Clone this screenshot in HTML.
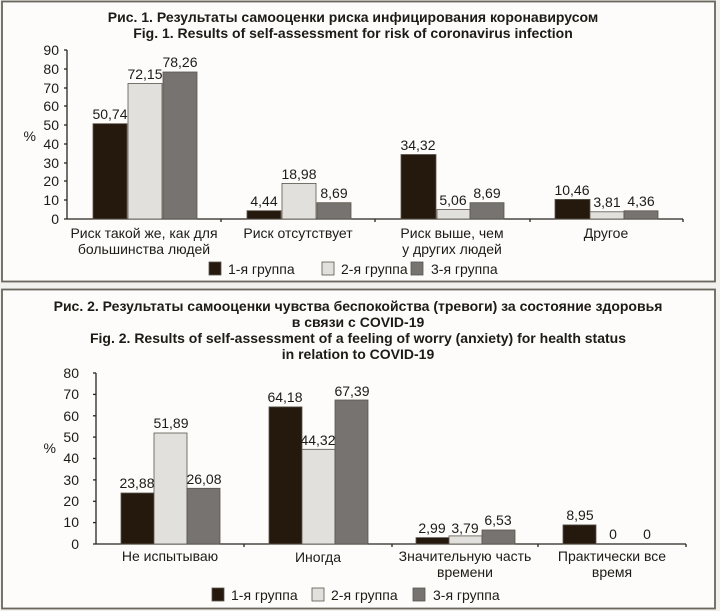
<!DOCTYPE html>
<html><head><meta charset="utf-8"><style>
html,body{margin:0;padding:0;background:#f3f1ed;}
svg{display:block;font-family:"Liberation Sans","DejaVu Sans",sans-serif;}
</style></head><body>
<svg width="720" height="611" viewBox="0 0 720 611" xmlns="http://www.w3.org/2000/svg">
<rect x="0" y="0" width="720" height="611" fill="#f3f1ed"/>
<rect x="2" y="1.5" width="713" height="280" fill="#fdfcfa" stroke="#6a655d" stroke-width="1.8"/>
<rect x="2" y="289.5" width="713" height="319" fill="#fdfcfa" stroke="#6a655d" stroke-width="1.8"/>

<g fill="#1e1a16" font-weight="bold" font-size="14" text-anchor="middle">
<text x="353" y="22">Рис. 1. Результаты самооценки риска инфицирования коронавирусом</text>
<text x="353" y="38">Fig. 1. Results of self-assessment for risk of coronavirus infection</text>
<text x="358" y="311">Рис. 2. Результаты самооценки чувства беспокойства (тревоги) за состояние здоровья</text>
<text x="358" y="327">в связи с COVID-19</text>
<text x="358" y="343">Fig. 2. Results of self-assessment of a feeling of worry (anxiety) for health status</text>
<text x="358" y="359">in relation to COVID-19</text>
</g>

<!-- Chart 1 -->
<g stroke="#2a241e" stroke-width="1.3">
<line x1="67" y1="50" x2="67" y2="219"/>
<line x1="64" y1="219" x2="683" y2="219"/>
<line x1="64" y1="50" x2="67" y2="50"/><line x1="64" y1="69" x2="67" y2="69"/><line x1="64" y1="88" x2="67" y2="88"/><line x1="64" y1="106" x2="67" y2="106"/><line x1="64" y1="125" x2="67" y2="125"/><line x1="64" y1="144" x2="67" y2="144"/><line x1="64" y1="163" x2="67" y2="163"/><line x1="64" y1="181" x2="67" y2="181"/><line x1="64" y1="200" x2="67" y2="200"/>
<line x1="221" y1="219" x2="221" y2="222"/><line x1="375" y1="219" x2="375" y2="222"/><line x1="530" y1="219" x2="530" y2="222"/><line x1="683" y1="219" x2="683" y2="222"/>
</g>
<g font-size="14" fill="#1e1a16" text-anchor="end">
<text x="59" y="55">90</text><text x="59" y="74">80</text><text x="59" y="93">70</text><text x="59" y="111">60</text><text x="59" y="130">50</text><text x="59" y="149">40</text><text x="59" y="168">30</text><text x="59" y="186">20</text><text x="59" y="205">10</text><text x="59" y="224">0</text>
<text x="36" y="141">%</text>
</g>
<g stroke="#5a544c" stroke-width="0.8">
<rect x="93" y="123.7" width="34" height="95.3" fill="#25180d"/>
<rect x="128" y="83.5" width="34" height="135.5" fill="#e2e0dc"/>
<rect x="163" y="72" width="34" height="147" fill="#767370"/>
<rect x="247" y="210.7" width="34" height="8.3" fill="#25180d"/>
<rect x="282" y="183.4" width="34" height="35.6" fill="#e2e0dc"/>
<rect x="317" y="202.7" width="34" height="16.3" fill="#767370"/>
<rect x="401" y="154.5" width="35" height="64.5" fill="#25180d"/>
<rect x="437" y="209.5" width="33" height="9.5" fill="#e2e0dc"/>
<rect x="470" y="202.7" width="34" height="16.3" fill="#767370"/>
<rect x="555" y="199.4" width="35" height="19.6" fill="#25180d"/>
<rect x="590" y="211.8" width="34" height="7.2" fill="#e2e0dc"/>
<rect x="624" y="210.8" width="34" height="8.2" fill="#767370"/>
</g>
<g font-size="14" fill="#1e1a16" text-anchor="middle">
<text x="110" y="119">50,74</text><text x="145" y="79">72,15</text><text x="180" y="67">78,26</text>
<text x="264" y="206">4,44</text><text x="299" y="179">18,98</text><text x="334" y="198">8,69</text>
<text x="418" y="150">34,32</text><text x="453" y="205">5,06</text><text x="487" y="198">8,69</text>
<text x="572" y="195">10,46</text><text x="607" y="207">3,81</text><text x="641" y="206">4,36</text>
<text x="144" y="238">Риск такой же, как для</text><text x="144" y="254">большинства людей</text>
<text x="298" y="238">Риск отсутствует</text>
<text x="452" y="238">Риск выше, чем</text><text x="452" y="254">у других людей</text>
<text x="606" y="238">Другое</text>
</g>
<g font-size="14" fill="#1e1a16" stroke-width="0.8" stroke="#5a544c">
<rect x="209" y="262" width="12" height="13" fill="#25180d"/>
<rect x="322" y="262" width="12" height="13" fill="#e2e0dc"/>
<rect x="411" y="262" width="12" height="13" fill="#767370"/>
</g>
<g font-size="14" fill="#1e1a16">
<text x="228" y="274">1-я группа</text><text x="341" y="274">2-я группа</text><text x="431" y="274">3-я группа</text>
</g>

<!-- Chart 2 -->
<g stroke="#2a241e" stroke-width="1.3">
<line x1="96" y1="373" x2="96" y2="544"/>
<line x1="93" y1="544" x2="686" y2="544"/>
<line x1="93" y1="373" x2="96" y2="373"/><line x1="93" y1="394.4" x2="96" y2="394.4"/><line x1="93" y1="415.8" x2="96" y2="415.8"/><line x1="93" y1="437.1" x2="96" y2="437.1"/><line x1="93" y1="458.5" x2="96" y2="458.5"/><line x1="93" y1="479.9" x2="96" y2="479.9"/><line x1="93" y1="501.3" x2="96" y2="501.3"/><line x1="93" y1="522.6" x2="96" y2="522.6"/>
<line x1="244" y1="544" x2="244" y2="547"/><line x1="392" y1="544" x2="392" y2="547"/><line x1="538" y1="544" x2="538" y2="547"/><line x1="686" y1="544" x2="686" y2="547"/>
</g>
<g font-size="14" fill="#1e1a16" text-anchor="end">
<text x="79" y="378">80</text><text x="79" y="399">70</text><text x="79" y="421">60</text><text x="79" y="442">50</text><text x="79" y="463">40</text><text x="79" y="485">30</text><text x="79" y="506">20</text><text x="79" y="527">10</text><text x="79" y="549">0</text>
<text x="56" y="453">%</text>
</g>
<g stroke="#5a544c" stroke-width="0.8">
<rect x="121" y="493" width="33" height="51" fill="#25180d"/>
<rect x="154" y="433" width="33" height="111" fill="#e2e0dc"/>
<rect x="187" y="488.3" width="33" height="55.7" fill="#767370"/>
<rect x="269" y="406.9" width="33" height="137.1" fill="#25180d"/>
<rect x="302" y="449.3" width="33" height="94.7" fill="#e2e0dc"/>
<rect x="335" y="400" width="33" height="144" fill="#767370"/>
<rect x="416" y="537.6" width="33" height="6.4" fill="#25180d"/>
<rect x="449" y="535.9" width="33" height="8.1" fill="#e2e0dc"/>
<rect x="482" y="530" width="33" height="14" fill="#767370"/>
<rect x="563" y="524.9" width="33" height="19.1" fill="#25180d"/>
</g>
<g font-size="14" fill="#1e1a16" text-anchor="middle">
<text x="137" y="488">23,88</text><text x="171" y="428">51,89</text><text x="204" y="484">26,08</text>
<text x="285" y="402">64,18</text><text x="318" y="445">44,32</text><text x="352" y="396">67,39</text>
<text x="432" y="533">2,99</text><text x="465" y="533">3,79</text><text x="498" y="525">6,53</text>
<text x="580" y="520">8,95</text><text x="613" y="539">0</text><text x="647" y="539">0</text>
<text x="170" y="561">Не испытываю</text>
<text x="318" y="562">Иногда</text>
<text x="465" y="561">Значительную часть</text><text x="465" y="577">времени</text>
<text x="612" y="561">Практически все</text><text x="612" y="577">время</text>
</g>
<g stroke-width="0.8" stroke="#5a544c">
<rect x="212" y="588" width="12" height="13" fill="#25180d"/>
<rect x="312" y="588" width="12" height="13" fill="#e2e0dc"/>
<rect x="413" y="588" width="12" height="13" fill="#767370"/>
</g>
<g font-size="14" fill="#1e1a16">
<text x="231" y="600">1-я группа</text><text x="331" y="600">2-я группа</text><text x="433" y="600">3-я группа</text>
</g>
</svg>
</body></html>
